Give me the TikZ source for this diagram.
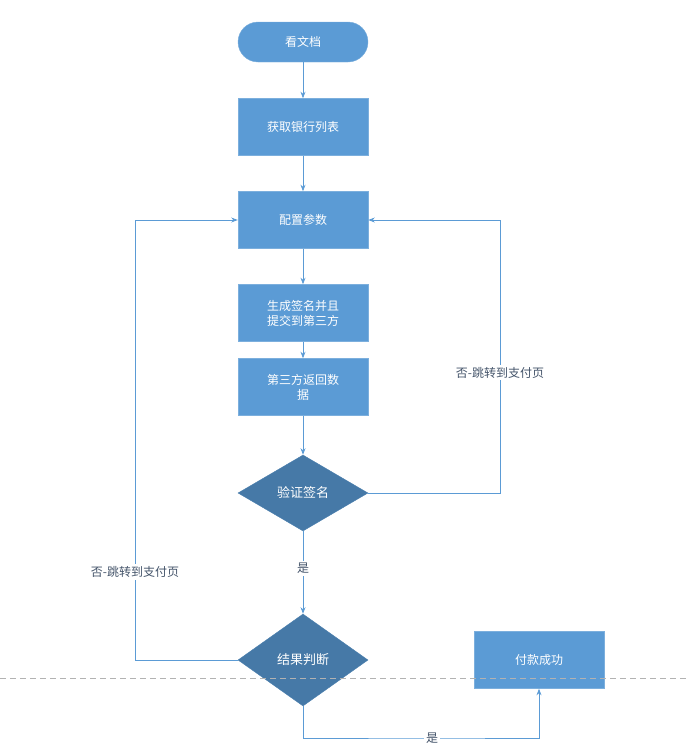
\documentclass[tikz,border=0pt]{standalone}
\usepackage{fontspec}
\setmainfont{Noto Sans CJK SC}
\usetikzlibrary{shapes.geometric, arrows.meta, positioning}
\definecolor{boxblue}{HTML}{5B9BD5}
\definecolor{edgeblue}{HTML}{41719C}
\definecolor{labelgray}{HTML}{44546A}
\begin{document}
\begin{tikzpicture}[
    x=1pt, y=-1pt,
    font=\fontsize{12}{15}\selectfont,
    process/.style={
        rectangle, draw=boxblue!80!white, fill=boxblue, text=white,
        minimum width=130pt, minimum height=57pt, align=center, inner sep=2pt
    },
    start/.style={process, rounded corners=20pt, minimum height=40pt},
    decision/.style={
        diamond, draw=edgeblue!70!boxblue, fill=edgeblue!80!boxblue, text=white,
        minimum width=130pt, aspect=1.7, inner sep=1pt
    },
    arrow/.style={->, >=Stealth, draw=boxblue, line width=0.8pt},
    label/.style={text=labelgray, fill=white, inner sep=2pt}
]
    \useasboundingbox (0,0) rectangle (690,755);
    % Nodes
    \node (doc) [start] at (303,42) {看文档};
    \node (banks) [process] at (303,127) {获取银行列表};
    \node (config) [process] at (303,220) {配置参数};
    \node (sign) [process] at (303,313) {生成签名并且\\提交到第三方};
    \node (reply) [process] at (303,387) {第三方返回数\\据};
    \node (verify) [decision, minimum height=76pt] at (303,493) {\fontsize{13}{15}\selectfont 验证签名};
    \node (result) [decision, minimum height=92pt] at (303,660) {\fontsize{13}{15}\selectfont 结果判断};
    \node (paid) [process] at (539,660) {付款成功};
    % Divider
    \draw [dashed, gray!60, dash pattern=on 6pt off 4pt] (0,678) -- (690,678);
    % Connections
    \draw [arrow] (doc) -- (banks);
    \draw [arrow] (banks) -- (config);
    \draw [arrow] (config) -- (sign);
    \draw [arrow] (sign) -- (reply);
    \draw [arrow] (reply) -- (verify);
    \draw [arrow] (verify) -- node[label, pos=0.45] {是} (result);
    \draw [arrow] (verify.east) -| (500,220) node[label, pos=0.72] {否-跳转到支付页} -- (config.east);
    \draw [arrow] (result.west) -| (135,220) node[label, pos=0.6] {否-跳转到支付页} -- (config.west);
    \draw [arrow] (result.south) |- (432,738) node[label] {是} -| (paid.south);
\end{tikzpicture}
\end{document}
